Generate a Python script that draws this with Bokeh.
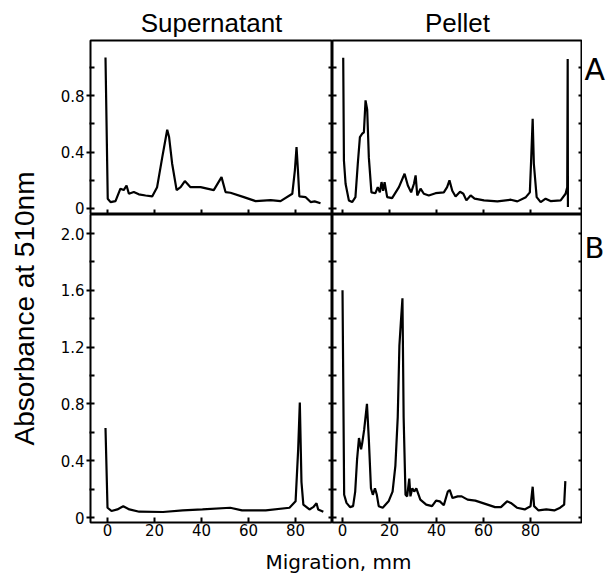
import math
from bokeh.plotting import figure
from bokeh.models import FixedTicker, LinearAxis, Label, Range1d
from bokeh.layouts import row, column
from bokeh.embed import file_html
from bokeh.resources import INLINE

# ---------------- data ----------------
panel_titles = ["Supernatant", "Pellet"]
panel_letters = ["A", "B"]
x_title = "Migration, mm"
y_title = "Absorbance at 510nm"

x_ticks = [0, 20, 40, 60, 80]
x_tick_labels = ["0", "20", "40", "60", "80"]
ya_ticks = [0, 0.4, 0.8]
ya_minor = [0.2, 0.6, 1.0]
ya_tick_labels = ["0", "0.4", "0.8"]
yb_ticks = [0, 0.4, 0.8, 1.2, 1.6, 2.0]
yb_minor = [0.2, 0.6, 1.0, 1.4, 1.8]
yb_tick_labels = ["0", "0.4", "0.8", "1.2", "1.6", "2.0"]

sup_a_x = [-0.85, 0.1, 1.3, 3.4, 5.5, 6.9, 8.1, 9.1, 11.2, 13.3, 16.2, 19.0, 21.1, 23.3, 25.4,
           26.2, 27.5, 29.4, 31.1, 32.9, 35.3, 39.6, 45.2, 48.5, 50.2, 52.3, 58.0, 63.0, 69.4,
           73.6, 78.6, 79.7, 80.4, 81.0, 81.6, 84.3, 86.4, 88.1, 90.6]
sup_a_y = [1.07, 0.069, 0.045, 0.052, 0.14, 0.13, 0.163, 0.104, 0.116, 0.10, 0.092, 0.085, 0.151,
           0.364, 0.558, 0.506, 0.317, 0.13, 0.151, 0.194, 0.151, 0.151, 0.13, 0.222, 0.116,
           0.111, 0.08, 0.052, 0.059, 0.052, 0.104, 0.27, 0.435, 0.27, 0.085, 0.08, 0.045,
           0.05, 0.037]

pel_a_x = [0.3, 0.6, 1.3, 2.7, 4.1, 5.5, 6.5, 7.4, 8.4, 9.1, 9.8, 10.5, 11.2, 12.3, 14.0, 15.0,
           15.9, 16.6, 17.3, 17.9, 19.0, 21.1, 24.0, 26.4, 27.8, 29.2, 30.4, 31.1, 31.8, 33.2,
           34.6, 36.7, 39.6, 43.1, 44.5, 45.5, 46.7, 48.1, 50.0, 51.4, 52.7, 54.5, 56.2, 60.2,
           65.9, 71.6, 74.4, 78.0, 79.7, 80.3, 80.9, 81.4, 82.6, 84.3, 86.4, 88.5, 92.8, 94.9,
           95.6, 95.8, 95.9]
pel_a_y = [1.069, 0.34, 0.175, 0.057, 0.045, 0.08, 0.317, 0.506, 0.53, 0.54, 0.766, 0.70, 0.362,
           0.114, 0.108, 0.151, 0.114, 0.187, 0.125, 0.187, 0.08, 0.073, 0.151, 0.246, 0.163,
           0.114, 0.175, 0.234, 0.092, 0.14, 0.104, 0.092, 0.108, 0.114, 0.151, 0.199, 0.125,
           0.085, 0.118, 0.104, 0.057, 0.092, 0.069, 0.057, 0.05, 0.062, 0.05, 0.08, 0.114,
           0.362, 0.636, 0.317, 0.08, 0.045, 0.069, 0.052, 0.057, 0.104, 0.151, 1.06, 0.01]

sup_b_x = [-0.85, 0.0, 1.7, 4.2, 6.7, 9.3, 13.5, 23.6, 32.0, 40.4, 52.2, 57.2, 67.3, 77.4, 80.0,
           81.1, 81.8, 82.5, 83.3, 85.9, 87.5, 88.9, 89.6, 91.8]
sup_b_y = [0.63, 0.069, 0.046, 0.057, 0.08, 0.057, 0.041, 0.039, 0.05, 0.057, 0.069, 0.05, 0.05,
           0.069, 0.114, 0.48, 0.81, 0.25, 0.091, 0.057, 0.073, 0.10, 0.057, 0.041]

pel_b_x = [0.0, 0.7, 1.7, 3.2, 4.5, 5.4, 6.2, 7.0, 7.9, 8.4, 9.2, 10.4, 11.2, 12.1, 12.9, 13.8,
           14.6, 15.4, 17.1, 19.6, 21.3, 22.5, 23.5, 24.2, 24.8, 25.5, 26.0, 26.8, 27.5, 28.4,
           28.9, 29.7, 30.5, 31.4, 33.1, 35.6, 38.1, 39.8, 41.4, 43.1, 44.8, 45.6, 46.8, 49.0,
           50.7, 53.2, 56.5, 60.7, 64.9, 67.4, 70.0, 71.6, 74.2, 77.5, 80.0, 80.9, 81.5, 83.4,
           86.7, 90.1, 92.6, 94.3, 94.8]
pel_b_y = [1.60, 0.16, 0.103, 0.073, 0.08, 0.183, 0.41, 0.56, 0.48, 0.526, 0.617, 0.80, 0.549,
           0.206, 0.16, 0.206, 0.16, 0.08, 0.069, 0.114, 0.183, 0.366, 0.709, 1.21, 1.37, 1.544,
           0.709, 0.16, 0.149, 0.274, 0.149, 0.206, 0.183, 0.206, 0.126, 0.091, 0.08, 0.119,
           0.114, 0.087, 0.183, 0.194, 0.137, 0.149, 0.149, 0.126, 0.119, 0.096, 0.073, 0.073,
           0.114, 0.103, 0.069, 0.057, 0.08, 0.217, 0.08, 0.05, 0.057, 0.05, 0.069, 0.091, 0.256]

# ---------------- styling ----------------
TITLE_FONT = "Liberation Sans"
TICK_FONT = "DejaVu Sans"
LEFT_XR = (-7.23, 95.7)
RIGHT_XR = (-4.26, 102.1)
TOP_YR = (-0.043, 1.191)
BOT_YR = (-0.035, 2.134)
LW = 2.2
BOTTOM_BORDER = 27
XLAB_H = 573 - 214 - 308 - BOTTOM_BORDER


def make_fig(xr, yr, fw, fh, bl, br, bt, bb, title=None):
    p = figure(x_range=Range1d(*xr), y_range=Range1d(*yr), frame_width=fw, frame_height=fh,
               min_border_left=bl, min_border_right=br, min_border_top=bt, min_border_bottom=bb,
               title=title, output_backend="svg", toolbar_location=None, tools="")
    p.grid.visible = False
    p.outline_line_color = "black"
    p.outline_line_width = 2
    p.background_fill_color = "white"
    p.border_fill_color = "white"
    return p


def strip(w, h):
    p = figure(x_range=Range1d(0, w), y_range=Range1d(0, h), width=w, height=h,
               x_axis_location=None, y_axis_location=None, min_border=0, title=None,
               output_backend="svg", toolbar_location=None, tools="")
    p.grid.visible = False
    p.outline_line_color = None
    p.background_fill_color = "white"
    p.border_fill_color = "white"
    return p


def style_axis(ax, ticks, minor, labels=None, tin=4, tout=0, min_in=4, min_out=0, standoff=2):
    ax.ticker = FixedTicker(ticks=ticks, minor_ticks=minor)
    ax.axis_line_color = None
    ax.major_tick_in = tin
    ax.major_tick_out = tout
    ax.minor_tick_in = min_in
    ax.minor_tick_out = min_out
    ax.major_tick_line_color = "black"
    ax.major_tick_line_width = 2
    ax.minor_tick_line_color = "black"
    ax.minor_tick_line_width = 2
    ax.axis_label = None
    ax.axis_label_standoff = 0
    if labels is not None:
        ax.major_label_overrides = {t: l for t, l in zip(ticks, labels)}
        ax.major_label_text_font = TICK_FONT
        ax.major_label_text_font_size = "15px"
        ax.major_label_text_color = "black"
        ax.major_label_standoff = standoff
    else:
        ax.major_label_text_font_size = "0px"
        ax.major_label_standoff = 0


def add_right_axis(p, ticks, minor, tin=4):
    ax = LinearAxis()
    style_axis(ax, ticks, minor, None, tin=tin, tout=0, min_in=tin, min_out=0)
    p.add_layout(ax, "right")


def set_title(p):
    p.title.align = "center"
    p.title.text_font = TITLE_FONT
    p.title.text_font_size = "26px"
    p.title.text_font_style = "normal"
    p.title.text_color = "black"
    p.title.standoff = 6


# top-left: Supernatant A
tl = make_fig(LEFT_XR, TOP_YR, 242, 174, 45, 0, 40, 0, title=panel_titles[0])
set_title(tl)
style_axis(tl.xaxis[0], x_ticks, [], None, tin=5)
style_axis(tl.yaxis[0], ya_ticks, ya_minor, ya_tick_labels, tin=4, tout=4, min_in=4, min_out=1, standoff=2)
add_right_axis(tl, ya_ticks, ya_minor, tin=4)
tl.line(sup_a_x, sup_a_y, line_color="black", line_width=LW)

# top-right: Pellet A
tr = make_fig(RIGHT_XR, TOP_YR, 250, 174, 0, 0, 40, 0, title=panel_titles[1])
set_title(tr)
style_axis(tr.xaxis[0], x_ticks, [], None, tin=5)
style_axis(tr.yaxis[0], ya_ticks, ya_minor, None, tin=4)
add_right_axis(tr, ya_ticks, ya_minor, tin=4)
tr.line(pel_a_x, pel_a_y, line_color="black", line_width=LW)

# bottom-left: Supernatant B
bl = make_fig(LEFT_XR, BOT_YR, 242, 308, 45, 0, 0, BOTTOM_BORDER)
style_axis(bl.xaxis[0], x_ticks, [], x_tick_labels, tin=5, tout=0, standoff=1)
style_axis(bl.yaxis[0], yb_ticks, yb_minor, yb_tick_labels, tin=4, tout=4, min_in=4, min_out=1, standoff=2)
add_right_axis(bl, yb_ticks, yb_minor, tin=4)
bl.line(sup_b_x, sup_b_y, line_color="black", line_width=LW)

# bottom-right: Pellet B
br = make_fig(RIGHT_XR, BOT_YR, 250, 308, 0, 0, 0, BOTTOM_BORDER)
style_axis(br.xaxis[0], x_ticks, [], x_tick_labels, tin=5, tout=0, standoff=1)
style_axis(br.yaxis[0], yb_ticks, yb_minor, None, tin=4)
add_right_axis(br, yb_ticks, yb_minor, tin=4)
br.line(pel_b_x, pel_b_y, line_color="black", line_width=LW)

# y-axis title strip (left)
ylab = strip(45, 573)
ylab.add_layout(Label(x=24, y=573 - 308, text=y_title, angle=math.pi / 2, text_align="center",
                      text_baseline="middle", text_font=TITLE_FONT, text_font_size="28px",
                      text_color="black"))

# panel letters strip (right)
letters = strip(34, 573)
letters.add_layout(Label(x=2, y=573 - 69, text=panel_letters[0], text_align="left",
                         text_baseline="middle", text_font=TICK_FONT, text_font_size="30px",
                         text_color="black"))
letters.add_layout(Label(x=2, y=573 - 247, text=panel_letters[1], text_align="left",
                         text_baseline="middle", text_font=TICK_FONT, text_font_size="29px",
                         text_color="black"))

# x-axis title strip (bottom)
xlab = strip(537, XLAB_H)
xlab.add_layout(Label(x=338 - 45, y=XLAB_H, text=x_title, text_align="center",
                      text_baseline="top", text_font=TICK_FONT, text_font_size="20px",
                      text_color="black"))

layout = row(ylab, column(row(tl, tr), row(bl, br), xlab), letters)

open("out.html", "w").write(file_html(layout, INLINE))
